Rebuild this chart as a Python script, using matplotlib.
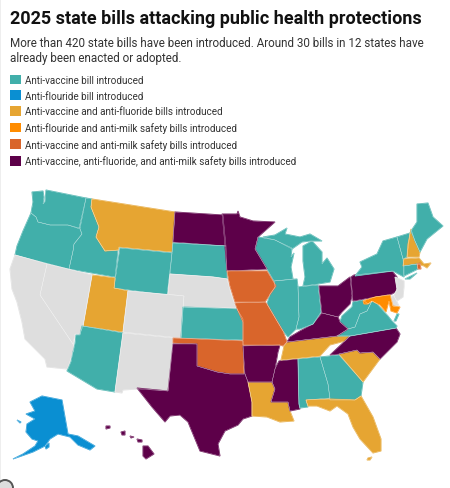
import matplotlib
matplotlib.use("Agg")
import matplotlib.pyplot as plt
from matplotlib.patches import Patch, Circle

TITLE = "2025 state bills attacking public health protections"
SUBTITLE = ("More than 420 state bills have been introduced. Around 30 bills in 12 states have\n"
            "already been enacted or adopted.")
CATEGORIES = ["Anti-vaccine bill introduced",
              "Anti-flouride bill introduced",
              "Anti-vaccine and anti-fluoride bills introduced",
              "Anti-flouride and anti-milk safety bills introduced",
              "Anti-vaccine and anti-milk safety bills introduced",
              "Anti-vaccine, anti-fluoride, and anti-milk safety bills introduced"]
COLORS = ["#41AFAA", "#0A8FD2", "#E6A532", "#FF8C00", "#D9652B", "#5D0049"]
NO_BILL_COLOR = "#DEDEDE"

STATE_CATEGORY = {
    "WA": 0, "OR": 0, "ID": 0, "WY": 0, "SD": 0, "KS": 0, "AZ": 0, "WI": 0, "MI": 0, "MI_UP": 0,
    "IL": 0, "IN": 0, "WV": 0, "VA": 0, "VA_ES": 0, "NY": 0, "LI": 0, "VT": 0, "ME": 0, "CT": 0,
    "AL": 0, "GA": 0,
    "AK": 1, "AK_KODIAK": 1, "AK_ISLAND": 1,
    "MT": 2, "UT": 2, "TN": 2, "SC": 2, "LA": 2, "FL": 2, "FL_KEYS": 2, "NH": 2, "MA": 2,
    "MD": 3,
    "IA": 4, "MO": 4, "OK": 4, "RI": 4,
    "ND": 5, "MN": 5, "TX": 5, "AR": 5, "MS": 5, "KY": 5, "OH": 5, "PA": 5, "NC": 5,
    "HI": 5, "HI_MAUI": 5, "HI_MOLOKAI": 5, "HI_OAHU": 5, "HI_KAUAI": 5,
    "CA": None, "NV": None, "NM": None, "CO": None, "NE": None, "NJ": None, "DE": None,
}

# Outlines, in its pixel grid
OUTLINES = {
    "WA": [(32,193),(43,192),(44,198),(43,205),(45,203),(46,191),(86,199),(79,229),(68,226),(50,226),(38,223),(36,218),(31,214),(33,203)],
    "OR": [(31,214),(36,218),(38,223),(50,226),(68,226),(80,230),(82,235),(74,245),(73,252),(69,270),(15,256),(17,247),(23,232)],
    "ID": [(86,199),(92,200),(91,208),(99,228),(96,238),(105,252),(118,251),(115,278),(69,270),(73,252),(74,245),(82,235),(80,230)],
    "MT": [(92,200),(175,213),(172,253),(119,248),(118,251),(105,252),(96,238),(99,228),(91,208)],
    "WY": [(120,249),(172,254),(167,296),(114,289)],
    "ND": [(175,213),(223,216),(226,247),(173,243)],
    "SD": [(173,244),(226,247),(227,272),(227,280),(213,278),(170,275)],
    "NE": [(170,275),(213,278),(227,280),(231,295),(236,309),(183,308),(184,297),(168,295)],
    "UT": [(92,276),(115,279),(114,289),(128,292),(123,333),(83,327)],
    "CO": [(128,292),(184,297),(181,339),(123,333)],
    "KS": [(183,308),(237,310),(243,320),(243,341),(181,339)],
    "NV": [(47,265),(92,276),(83,327),(80,335),(75,335),(73,345),(40,296)],
    "CA": [(15,256),(47,265),(40,296),(73,345),(74,350),(68,368),(67,370),(47,368),(45,360),(37,352),(25,340),(22,323),(17,303),(12,290),(10,270)],
    "AZ": [(82,327),(123,334),(115,393),(97,390),(67,372),(71,363),(73,353),(75,345),(76,336),(80,336)],
    "NM": [(123,334),(173,339),(168,392),(138,390),(123,391),(122,394),(115,393)],
    "OK": [(173,339),(243,342),(243,347),(244,375),(230,375),(217,373),(197,367),(197,345),(173,344)],
    "TX": [(173,345),(197,345),(197,367),(217,373),(230,375),(245,375),(248,383),(252,403),(252,417),(243,420),(238,426),(225,432),(218,445),(220,457),(200,452),(188,423),(180,416),(170,417),(165,423),(152,408),(137,389),(168,392)],
    "LA": [(248,383),(272,383),(275,390),(271,403),(288,403),(290,412),(294,422),(280,423),(267,418),(252,417),(252,403)],
    "AR": [(243,347),(280,346),(278,353),(275,370),(272,383),(248,383),(245,375)],
    "MS": [(279,362),(298,360),(299,405),(300,410),(290,412),(288,403),(271,403),(275,390),(272,383),(275,370)],
    "AL": [(298,360),(320,358),(328,385),(330,399),(306,401),(308,408),(300,409),(299,405)],
    "GA": [(320,358),(339,356),(363,383),(361,397),(355,401),(330,401),(328,385)],
    "SC": [(339,355),(357,351),(360,354),(373,353),(380,360),(363,383)],
    "FL": [(306,401),(330,400),(355,401),(361,397),(373,418),(381,440),(381,452),(373,454),(360,440),(353,428),(348,415),(337,407),(330,412),(317,407),(308,407)],
    "FL_KEYS": [(368,459),(372,458),(370,461),(367,461)],
    "TN": [(284,347),(287,343),(337,337),(350,337),(345,342),(330,346),(320,357),(281,361),(283,352)],
    "NC": [(350,337),(396,329),(400,335),(397,343),(390,350),(380,360),(373,353),(360,354),(357,351),(339,355),(330,356),(345,342)],
    "VA": [(337,337),(348,330),(355,328),(360,315),(367,312),(372,302),(377,305),(388,317),(392,322),(397,327),(396,329),(350,337)],
    "VA_ES": [(397,315),(399,315),(396,322),(394,322)],
    "WV": [(353,303),(363,301),(368,305),(372,302),(367,312),(360,315),(355,328),(348,330),(340,323),(342,317),(352,308)],
    "KY": [(290,338),(300,332),(313,325),(322,314),(338,318),(340,323),(348,330),(337,337),(287,343)],
    "IL": [(274,282),(297,280),(298,288),(299,318),(296,330),(288,338),(283,332),(277,322),(267,305),(270,295),(275,288)],
    "IN": [(298,288),(318,286),(321,313),(313,325),(300,330),(296,330),(299,318)],
    "OH": [(319,287),(338,287),(350,278),(352,297),(350,305),(342,313),(338,318),(322,314)],
    "MI": [(303,287),(318,285),(330,283),(334,270),(327,259),(322,265),(322,253),(312,242),(303,247),(303,262),(305,278)],
    "MI_UP": [(263,238),(275,241),(292,250),(302,243),(310,242),(322,242),(310,235),(300,238),(285,235),(287,229),(275,236)],
    "WI": [(258,238),(275,241),(292,249),(291,258),(294,254),(291,268),(293,280),(274,282),(267,270),(255,250)],
    "MN": [(222,215),(237,215),(238,212),(240,218),(253,222),(275,223),(258,238),(255,250),(267,270),(227,272),(225,247)],
    "IA": [(227,272),(267,272),(276,287),(269,297),(265,303),(235,303),(230,287)],
    "MO": [(235,304),(265,303),(267,305),(277,322),(283,332),(287,343),(283,347),(280,346),(243,346),(243,323),(238,312)],
    "PA": [(351,278),(354,276),(392,272),(397,278),(397,292),(392,295),(353,302)],
    "NY": [(355,277),(362,268),(360,263),(377,255),(383,242),(397,238),(403,260),(404,278),(393,272)],
    "LI": [(405,280),(417,274),(410,280)],
    "VT": [(397,238),(410,234),(407,258),(403,260)],
    "NH": [(411,230),(415,242),(420,253),(419,258),(407,258),(408,245)],
    "ME": [(411,232),(417,223),(417,205),(428,204),(433,218),(443,227),(427,240),(420,253),(415,242)],
    "MA": [(404,260),(419,259),(424,265),(431,264),(427,269),(424,267),(417,265),(403,267)],
    "CT": [(404,267),(417,265),(418,270),(404,277)],
    "RI": [(417,265),(420,264),(421,270),(418,270)],
    "NJ": [(395,278),(404,282),(404,288),(403,298),(397,302),(394,297),(397,290)],
    "DE": [(391,297),(394,297),(399,307),(393,307)],
    "MD": [(363,302),(375,298),(390,296),(393,307),(400,308),(397,314),(391,312),(389,302),(386,313),(380,306),(372,302),(368,305),(364,305)],
    "AK": [(30,403),(42,397),(62,401),(68,435),(78,437),(95,447),(90,451),(78,446),(70,438),(58,435),(50,440),(45,447),(33,453),(13,460),(23,455),(35,447),(38,442),(32,440),(26,433),(27,425),(35,420),(26,415),(35,412)],
    "AK_KODIAK": [(45,447),(49,444),(49,448),(46,450)],
    "AK_ISLAND": [(17,421),(21,423),(20,424)],
    "HI": [(143,447),(148,447),(154,455),(146,460),(143,457)],
    "HI_MAUI": [(137,440),(142,441),(142,443),(138,443)],
    "HI_MOLOKAI": [(130,437),(134,438),(131,439)],
    "HI_OAHU": [(121,433),(125,432),(125,436),(122,436)],
    "HI_KAUAI": [(106,427),(110,427),(110,429),(106,430)],
}

plt.rcParams["font.family"] = ["Roboto", "DejaVu Sans"]
fig = plt.figure(figsize=(4.5, 4.89), dpi=100, facecolor="white")
ax = fig.add_axes([0, 0, 1, 1])
ax.set_xlim(0, 450)
ax.set_ylim(489, 0)
ax.axis("off")

for state, outline in OUTLINES.items():
    cat = STATE_CATEGORY[state]
    colour = NO_BILL_COLOR if cat is None else COLORS[cat]
    xs, ys = zip(*outline)
    ax.fill(xs, ys, facecolor=colour, edgecolor=colour, linewidth=0.7, zorder=2)
for state, outline in OUTLINES.items():
    xs, ys = zip(*outline)
    ax.fill(xs, ys, facecolor="none", edgecolor="#FFFFFF", linewidth=0.3, alpha=0.55, zorder=3)

ax.axvspan(0, 1, color="#EEEEEE", linewidth=0)
ax.add_patch(Circle((5, 489), 8, facecolor="#DDDDDD", edgecolor="#555555", linewidth=1.4))

ax.text(9.5, 19, TITLE, fontsize=12.95, fontweight="bold", color="#111111", va="center", ha="left")
ax.text(9.5, 51, SUBTITLE, fontsize=8.35, color="#333333", va="center", ha="left", linespacing=1.25)

handles = [Patch(facecolor=c, edgecolor="none", label=l) for c, l in zip(COLORS, CATEGORIES)]
fig.legend(handles=handles, loc="upper left", bbox_to_anchor=(9.5 / 450, 1 - 75.5 / 489),
           frameon=False, fontsize=7.1, labelcolor="#333333", handlelength=1.12, handleheight=1.12,
           handletextpad=0.42, labelspacing=0.58, borderpad=0, borderaxespad=0)

fig.savefig("out.png", dpi=100)
